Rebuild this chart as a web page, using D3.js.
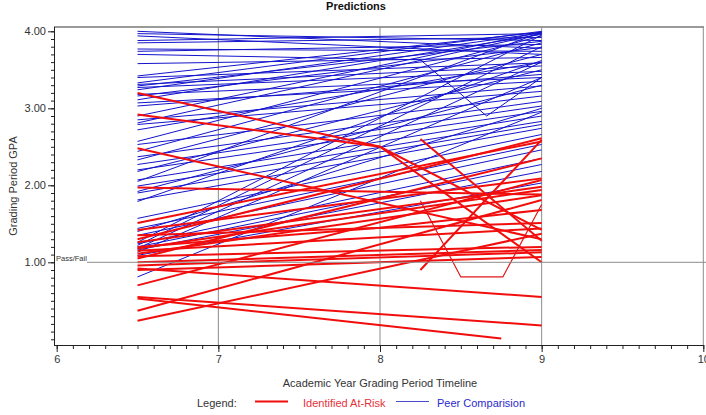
<!DOCTYPE html>
<html>
<head>
<meta charset="utf-8">
<script src="https://cdn.jsdelivr.net/npm/d3@7"></script>
<style>
  body { margin: 0; background: #fff; }
  text { font-family: "Liberation Sans", Arial, sans-serif; }
</style>
</head>
<body>
<script>
// grading period (x) and GPA (y) points per student
var peerLines = [
  [[6.5, 4.00], [9, 3.78]], [[6.5, 3.97], [9, 3.88]], [[6.5, 3.94], [9, 3.70]],
  [[6.5, 3.88], [9, 3.97]], [[6.5, 3.85], [9, 3.92]], [[6.5, 3.77], [9, 3.74]],
  [[6.5, 3.74], [9, 3.83]], [[6.5, 3.58], [9, 3.66]], [[6.5, 3.42], [9, 3.99]],
  [[6.5, 3.40], [9, 3.59]], [[6.5, 3.33], [9, 4.00]], [[6.5, 3.31], [9, 3.55]],
  [[6.5, 3.29], [9, 3.87]], [[6.5, 3.27], [9, 3.48]], [[6.5, 3.24], [9, 3.98]],
  [[6.5, 3.18], [9, 3.40]], [[6.5, 3.16], [9, 3.79]], [[6.5, 3.11], [9, 3.96]],
  [[6.5, 3.07], [9, 3.35]], [[6.5, 3.03], [9, 3.44]], [[6.5, 2.90], [9, 3.99]],
  [[6.5, 2.85], [9, 3.29]], [[6.5, 2.81], [9, 3.97]], [[6.5, 2.79], [9, 3.22]],
  [[6.5, 2.72], [9, 3.60]], [[6.5, 2.57], [9, 3.94]], [[6.5, 2.53], [9, 3.16]],
  [[6.5, 2.44], [9, 3.85]], [[6.5, 2.37], [9, 3.09]], [[6.5, 2.33], [9, 3.70]],
  [[6.5, 2.27], [9, 3.03]], [[6.5, 2.20], [9, 2.96]], [[6.5, 2.18], [9, 3.50]],
  [[6.5, 2.07], [9, 2.90]], [[6.5, 2.05], [9, 3.99]], [[6.5, 1.99], [9, 2.83]],
  [[6.5, 1.92], [9, 3.30]], [[6.5, 1.90], [9, 2.79]], [[6.5, 1.81], [9, 2.74]],
  [[6.5, 1.79], [9, 3.62]], [[6.5, 1.57], [9, 2.66]], [[6.5, 1.44], [9, 2.53]],
  [[6.5, 1.40], [9, 3.00]], [[6.5, 1.35], [9, 2.46]], [[6.5, 1.26], [9, 3.95]],
  [[6.5, 1.24], [9, 2.35]], [[6.5, 1.22], [9, 3.80]], [[6.5, 1.20], [9, 2.27]],
  [[6.5, 1.18], [9, 3.60]], [[6.5, 1.16], [9, 2.18]], [[6.5, 1.13], [9, 3.40]],
  [[6.5, 1.09], [9, 2.03]], [[6.5, 0.81], [9, 2.95]],
  [[6.5, 3.70], [8.25, 3.63], [8.66, 2.90], [9, 3.40]]
];

var riskLines = [
  [[6.5, 3.20], [8, 2.50], [9, 1.00]],
  [[6.5, 2.92], [8, 2.50], [9, 1.42]],
  [[6.5, 2.48], [9, 1.30]],
  [[6.5, 1.97], [9, 1.88]],
  [[6.5, 1.51], [9, 2.57]],
  [[6.5, 1.42], [9, 2.09]],
  [[6.5, 1.35], [9, 1.51]],
  [[6.5, 1.30], [9, 2.61]],
  [[6.5, 1.26], [9, 1.98]],
  [[6.5, 1.20], [8, 1.45], [9, 1.68]],
  [[6.5, 1.18], [9, 1.94]],
  [[6.5, 1.15], [9, 1.44]],
  [[6.5, 1.11], [9, 1.87]],
  [[6.5, 1.08], [9, 1.20]],
  [[6.5, 1.05], [9, 2.35]],
  [[6.5, 1.00], [9, 1.16]],
  [[6.5, 0.96], [9, 1.13]],
  [[6.5, 0.92], [9, 0.55]],
  [[6.5, 0.90], [9, 1.07]],
  [[6.5, 0.70], [9, 2.07]],
  [[6.5, 0.55], [9, 0.18]],
  [[6.5, 0.53], [8.75, 0.01]],
  [[6.5, 0.37], [9, 1.81]],
  [[6.5, 0.24], [9, 1.37]],
  [[8.25, 0.90], [9, 2.59]],
  [[8.25, 2.60], [9, 1.28]]
];

// the one thin at-risk path with several points
var riskThin = [[8.25, 1.80], [8.5, 0.81], [8.76, 0.81], [9, 1.75]];

var xMajor = [6, 7, 8, 9, 10];
var yMajor = [1, 2, 3, 4];
var gridX = [7, 8, 9, 10];
var passFail = 1.0;

var legendItems = ["Identified At-Risk", "Peer Comparision"];

var draw = function() {
  var W = 706, H = 415;
  var left = 54, right = 704, top = 27, bottom = 345;

  var svg = d3.select("body").append("svg")
      .attr("width", W)
      .attr("height", H);

  var x = d3.scaleLinear().domain([6, 10]).range([56.7, 703.3]);
  var y = d3.scaleLinear().domain([1, 4]).range([262.3, 31.3]);

  // frame + grid
  svg.append("line")
      .attr("x1", left).attr("x2", right)
      .attr("y1", top).attr("y2", top)
      .attr("stroke", "#9a9a9a").attr("stroke-width", 2);

  svg.selectAll(".gridx").data(gridX).enter().append("line")
      .attr("x1", d => x(d)).attr("x2", d => x(d))
      .attr("y1", top).attr("y2", bottom)
      .attr("stroke", "#8c8c8c").attr("stroke-width", 1);

  var line = d3.line()
      .x(function(d) { return x(d[0]); })
      .y(function(d) { return y(d[1]); });

  svg.append("g").selectAll("path").data(peerLines).enter().append("path")
      .attr("d", line)
      .attr("fill", "none")
      .attr("stroke", "#1414cc")
      .attr("stroke-width", 1);

  svg.append("g").selectAll("path").data(riskLines).enter().append("path")
      .attr("d", line)
      .attr("fill", "none")
      .attr("stroke", "#f20d0d")
      .attr("stroke-width", 2);

  svg.append("path").datum(riskThin)
      .attr("d", line)
      .attr("fill", "none")
      .attr("stroke", "#e01818")
      .attr("stroke-width", 1.2);

  // pass/fail reference line
  svg.append("line")
      .attr("x1", 87).attr("x2", W)
      .attr("y1", y(passFail)).attr("y2", y(passFail))
      .attr("stroke", "#8c8c8c").attr("stroke-width", 1);
  svg.append("text")
      .attr("x", 56).attr("y", y(passFail) - 1)
      .attr("font-size", 7.5).attr("fill", "#333")
      .text("Pass/Fail");

  // y axis
  var yMinor = d3.range(0, 41).map(d => d / 10);
  var yAxisMinor = svg.append("g")
      .attr("transform", "translate(" + left + ",0)")
      .call(d3.axisLeft(y).tickValues(yMinor).tickSize(3).tickFormat(""));
  var yAxis = svg.append("g")
      .attr("transform", "translate(" + left + ",0)")
      .call(d3.axisLeft(y).tickValues(yMajor).tickSize(6).tickFormat(d3.format(".2f")));
  yAxisMinor.select(".domain").remove();
  yAxis.select(".domain").attr("d", "M0.5," + top + "V" + bottom);

  // x axis
  var xMinor = d3.range(60, 101).map(d => d / 10);
  var xAxisMinor = svg.append("g")
      .attr("transform", "translate(0," + bottom + ")")
      .call(d3.axisBottom(x).tickValues(xMinor).tickSize(4).tickFormat(""));
  var xAxis = svg.append("g")
      .attr("transform", "translate(0," + bottom + ")")
      .call(d3.axisBottom(x).tickValues(xMajor).tickSize(7).tickFormat(d3.format("d")));
  xAxisMinor.select(".domain").remove();
  xAxis.select(".domain").attr("d", "M" + left + ",0.5H" + right);

  [yAxis, yAxisMinor, xAxis, xAxisMinor].forEach(function(a) {
    a.selectAll("line").attr("stroke", "#222");
    a.select(".domain").attr("stroke", "#222");
  });
  yAxis.selectAll("text").attr("font-size", 11).attr("fill", "#333")
      .attr("font-family", "Liberation Sans, Arial, sans-serif").attr("x", -8);
  xAxis.selectAll("text").attr("font-size", 11).attr("fill", "#333")
      .attr("font-family", "Liberation Sans, Arial, sans-serif").attr("y", 10);

  // titles
  svg.append("text")
      .attr("x", 356).attr("y", 10)
      .attr("text-anchor", "middle")
      .attr("font-size", 11).attr("font-weight", "bold").attr("fill", "#111")
      .text("Predictions");

  svg.append("text")
      .attr("transform", "translate(17,186) rotate(-90)")
      .attr("text-anchor", "middle")
      .attr("font-size", 11).attr("fill", "#333")
      .text("Grading Period GPA");

  svg.append("text")
      .attr("x", 380).attr("y", 387)
      .attr("text-anchor", "middle")
      .attr("font-size", 11).attr("fill", "#333")
      .text("Academic Year Grading Period Timeline");

  // legend
  svg.append("text")
      .attr("x", 197).attr("y", 407)
      .attr("font-size", 11).attr("fill", "#333")
      .text("Legend:");
  svg.append("line")
      .attr("x1", 255).attr("x2", 288).attr("y1", 401.5).attr("y2", 401.5)
      .attr("stroke", "#f20d0d").attr("stroke-width", 2);
  svg.append("text")
      .attr("x", 303).attr("y", 407)
      .attr("font-size", 11).attr("fill", "#e8303a")
      .text(legendItems[0]);
  svg.append("line")
      .attr("x1", 396).attr("x2", 429).attr("y1", 401.5).attr("y2", 401.5)
      .attr("stroke", "#4a4acc").attr("stroke-width", 1);
  svg.append("text")
      .attr("x", 437).attr("y", 407)
      .attr("font-size", 11).attr("fill", "#2a2acc")
      .text(legendItems[1]);
};

window.onload = function() {
  draw();
};
</script>
</body>
</html>
